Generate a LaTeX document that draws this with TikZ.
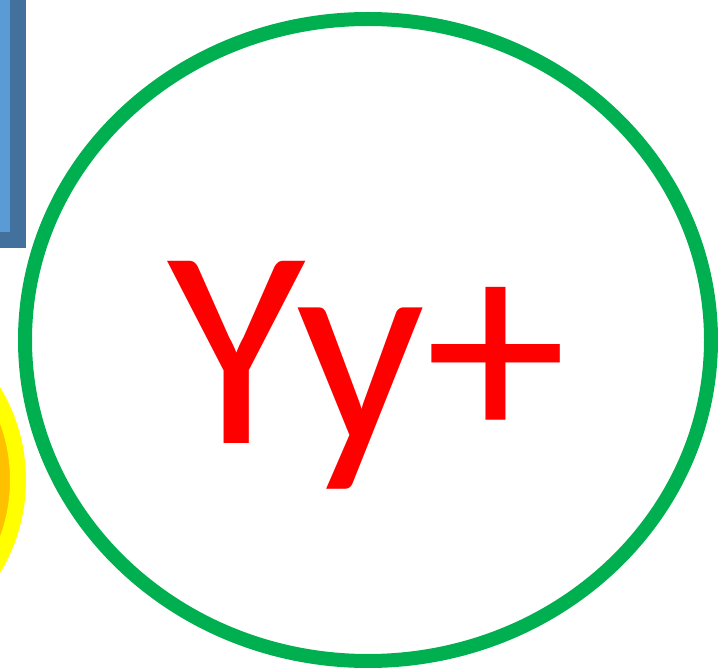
\documentclass[tikz,border=0pt]{standalone}
\usepackage{fontspec}
\setmainfont{Carlito}
\definecolor{boxfill}{RGB}{91,155,213}
\definecolor{boxline}{RGB}{65,113,156}
\definecolor{ringgreen}{RGB}{0,176,80}
\definecolor{sunorange}{RGB}{255,192,0}
\definecolor{sunyellow}{RGB}{255,255,0}
\begin{document}
\begin{tikzpicture}[x=1pt,y=-1pt]
    \useasboundingbox (0,0) rectangle (718,668);
    \clip (0,0) rectangle (718,668);
    % shapes cut by the frame
    \draw[boxline, fill=boxfill, line width=16pt] (-200,-20) rectangle (18,240);
    \draw[sunyellow, fill=sunorange, line width=16pt] (-153,480) circle[radius=171];
    \draw[ringgreen, line width=14pt] (368,340) ellipse[x radius=343, y radius=321];
    \node[text=red, font=\fontsize{284}{300}\selectfont, anchor=base, inner sep=0pt] (yy) at (367,443) {Yy+};
  \end{tikzpicture}
\end{document}
